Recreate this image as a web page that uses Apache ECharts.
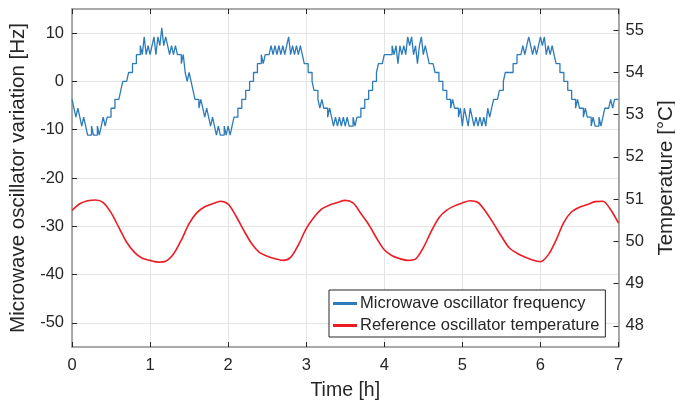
<!DOCTYPE html>
<html>
<head>
<meta charset="utf-8">
<script src="https://cdn.jsdelivr.net/npm/echarts@6/dist/echarts.min.js"></script>
<style>
html,body{margin:0;padding:0;background:#fff;}
#chart{width:675px;height:406px;}
</style>
</head>
<body>
<div id="chart"></div>
<script>
// ---- data ----
const xTicks = [0, 1, 2, 3, 4, 5, 6, 7];
const leftTicks = [-50, -40, -30, -20, -10, 0, 10];
const rightTicks = [48, 49, 50, 51, 52, 53, 54, 55];

const seriesNames = ['Microwave oscillator frequency', 'Reference oscillator temperature'];

// microwave oscillator variation [Hz], sampled every 0.025 h from 0 h to 7 h
const freqStepH = 0.025;
const freqHz = [
  -3.7, -5.55, -7.4, -5.55, -7.4, -9.25, -7.4, -9.25, -11.1, -11.1,
  -9.25, -11.1, -11.1, -9.25, -11.1, -9.25, -7.4, -9.25, -7.4, -7.4,
  -5.55, -5.55, -3.7, -3.7, -3.7, -1.85, 0, 0, 0, 1.85,
  1.85, 3.7, 3.7, 5.55, 5.55, 7.4, 5.55, 9.25, 5.55, 7.4,
  5.55, 7.4, 9.25, 5.55, 9.25, 7.4, 11.1, 7.4, 9.25, 7.4,
  5.55, 7.4, 5.55, 7.4, 5.55, 5.55, 3.7, 5.55, 1.85, 0,
  1.85, 0, -1.85, -3.7, -3.7, -5.55, -3.7, -5.55, -7.4, -5.55,
  -7.4, -9.25, -7.4, -9.25, -11.1, -9.25, -11.1, -11.1, -9.25, -11.1,
  -9.25, -11.1, -9.25, -7.4, -7.4, -5.55, -5.55, -3.7, -3.7, -1.85,
  -1.85, 0, 0, 1.85, 1.85, 3.7, 3.7, 5.55, 3.7, 5.55,
  5.55, 5.55, 7.4, 5.55, 7.4, 5.55, 7.4, 5.55, 7.4, 5.55,
  7.4, 9.25, 5.55, 7.4, 5.55, 7.4, 5.55, 7.4, 5.55, 3.7,
  3.7, 1.85, 1.85, 0, -1.85, -1.85, -3.7, -5.55, -3.7, -5.55,
  -5.55, -7.4, -5.55, -7.4, -9.25, -7.4, -9.25, -7.4, -9.25, -7.4,
  -9.25, -7.4, -9.25, -9.25, -7.4, -9.25, -7.4, -7.4, -5.55, -5.55,
  -3.7, -3.7, -1.85, -1.85, 0, 0, 1.85, 3.7, 3.7, 3.7,
  5.55, 5.55, 5.55, 5.55, 7.4, 5.55, 7.4, 3.7, 7.4, 5.55,
  7.4, 5.55, 9.25, 7.4, 9.25, 5.55, 7.4, 3.7, 7.4, 9.25,
  5.55, 7.4, 5.55, 3.7, 3.7, 3.7, 1.85, 1.85, 0, 0,
  -1.85, -1.85, -3.7, -3.7, -5.55, -3.7, -5.55, -5.55, -7.4, -5.55,
  -9.25, -5.55, -7.4, -9.25, -5.55, -7.4, -9.25, -7.4, -9.25, -7.4,
  -9.25, -7.4, -9.25, -5.55, -7.4, -5.55, -3.7, -3.7, -3.7, -1.85,
  -1.85, 0, 1.85, 1.85, 1.85, 1.85, 3.7, 3.7, 5.55, 5.55,
  5.55, 7.4, 5.55, 7.4, 9.25, 7.4, 5.55, 7.4, 5.55, 7.4,
  9.25, 7.4, 9.25, 5.55, 7.4, 5.55, 7.4, 5.55, 3.7, 3.7,
  1.85, 1.85, 0, 0, -1.85, -1.85, -3.7, -3.7, -5.55, -3.7,
  -5.55, -5.55, -7.4, -5.55, -7.4, -7.4, -9.25, -7.4, -9.25, -9.25,
  -7.4, -9.25, -7.4, -5.55, -5.55, -5.55, -3.7, -5.55, -3.7, -3.7, -3.7
];

// reference oscillator temperature [°C], sampled every 0.1 h from 0 h to 7 h
const tempStepH = 0.1;
const tempC = [
  50.73, 50.89, 50.96, 50.98, 50.92, 50.68, 50.33, 49.98, 49.74, 49.60,
  49.55, 49.51, 49.53, 49.70, 50.03, 50.42, 50.68, 50.82, 50.89, 50.95,
  50.88, 50.60, 50.26, 49.95, 49.74, 49.65, 49.59, 49.55, 49.62, 49.92,
  50.30, 50.57, 50.77, 50.86, 50.92, 50.97, 50.91, 50.66, 50.40, 50.08,
  49.80, 49.66, 49.59, 49.55, 49.58, 49.85, 50.23, 50.56, 50.74, 50.84,
  50.91, 50.96, 50.92, 50.70, 50.42, 50.12, 49.85, 49.72, 49.63, 49.56,
  49.52, 49.68, 50.03, 50.45, 50.70, 50.81, 50.87, 50.94, 50.95, 50.75,
  50.43
];

// ---- chart ----
const FONT = '"Liberation Sans", Arial, Helvetica, sans-serif';
const TEXT = '#262626';
const BOX = '#8f8f8f';
const GRIDC = '#e4e4e4';

const freqData = freqHz.map((v, i) => [+(i * freqStepH).toFixed(3), v]);
const tempData = tempC.map((v, i) => [+(i * tempStepH).toFixed(2), v]);

const chart = echarts.init(document.getElementById('chart'), null, {renderer: 'canvas'});

const axisLine = {show: true, onZero: false, lineStyle: {color: BOX, width: 1.5}};
const axisTick = {show: true, inside: true, length: 5, lineStyle: {color: TEXT, width: 1}};

chart.setOption({
  animation: false,
  backgroundColor: '#ffffff',
  textStyle: {fontFamily: FONT, color: TEXT},
  grid: {left: 72, right: 56.5, top: 9, bottom: 59, containLabel: false, outerBoundsMode: 'none'},
  legend: {
    orient: 'vertical',
    left: 329, top: 290,
    data: seriesNames,
    backgroundColor: '#ffffff',
    borderColor: '#262626', borderWidth: 1,
    padding: [4, 6, 2, 4],
    itemGap: 3,
    itemWidth: 24, itemHeight: 3,
    icon: 'rect',
    textStyle: {fontFamily: FONT, fontSize: 16.5, color: TEXT, lineHeight: 19, padding: [0, 0, 0, -2]}
  },
  xAxis: [{
    type: 'value', min: xTicks[0], max: xTicks[xTicks.length - 1], interval: 1,
    position: 'bottom',
    axisLine: axisLine, axisTick: axisTick,
    axisLabel: {color: TEXT, fontSize: 16.5, fontFamily: FONT, margin: 10},
    splitLine: {show: true, lineStyle: {color: GRIDC, width: 1}},
    name: 'Time [h]', nameLocation: 'middle', nameGap: 34,
    nameTextStyle: {fontSize: 19.5, color: TEXT, fontFamily: FONT}
  }, {
    type: 'value', min: xTicks[0], max: xTicks[xTicks.length - 1], interval: 1,
    position: 'top',
    axisLine: axisLine, axisTick: axisTick,
    axisLabel: {show: false}, splitLine: {show: false}
  }],
  yAxis: [{
    type: 'value', min: -55, max: 15, position: 'left',
    axisLine: axisLine,
    axisTick: Object.assign({customValues: leftTicks}, axisTick),
    axisLabel: {customValues: leftTicks, color: TEXT, fontSize: 16.5, fontFamily: FONT, margin: 8},
    splitLine: {show: true, lineStyle: {color: GRIDC, width: 1}},
    name: 'Microwave oscillator variation [Hz]', nameLocation: 'middle', nameGap: 37, nameRotate: 90,
    nameTextStyle: {fontSize: 20.5, color: TEXT, fontFamily: FONT}
  }, {
    type: 'value', min: 47.5, max: 55.5, position: 'right',
    axisLine: axisLine,
    axisTick: Object.assign({customValues: rightTicks}, axisTick),
    axisLabel: {customValues: rightTicks, color: TEXT, fontSize: 16.5, fontFamily: FONT, margin: 7},
    splitLine: {show: false},
    name: 'Temperature [°C]', nameLocation: 'middle', nameGap: 37, nameRotate: 90,
    nameTextStyle: {fontSize: 20.5, color: TEXT, fontFamily: FONT}
  }],
  series: [{
    name: seriesNames[0], type: 'line', xAxisIndex: 0, yAxisIndex: 0,
    data: freqData, showSymbol: false, symbol: 'none', step: 'end',
    lineStyle: {color: '#2c7bba', width: 1.3}, itemStyle: {color: '#2c7bba'}, z: 3
  }, {
    name: seriesNames[1], type: 'line', xAxisIndex: 0, yAxisIndex: 1,
    data: tempData, showSymbol: false, symbol: 'none', smooth: 0.3,
    lineStyle: {color: '#ec1c24', width: 1.6}, itemStyle: {color: '#ec1c24'}, z: 4
  }]
});
</script>
</body>
</html>
